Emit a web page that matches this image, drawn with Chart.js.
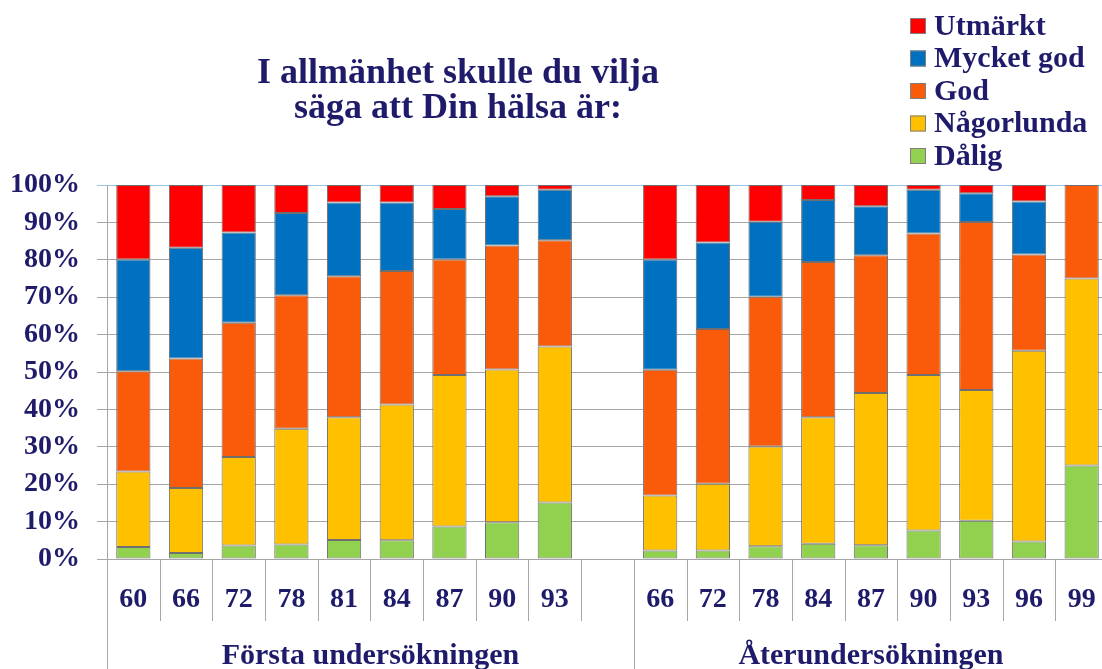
<!DOCTYPE html>
<html>
<head>
<meta charset="utf-8">
<script src="https://cdn.jsdelivr.net/npm/chart.js@4.4.1/dist/chart.umd.min.js"></script>
<style>
  html, body { margin: 0; padding: 0; background: #fff; overflow: hidden; }
  #wrap { width: 1108px; height: 669px; }
</style>
</head>
<body>
<div id="wrap"><canvas id="healthChart" width="1108" height="669"></canvas></div>
<script>
// Data (percent of each bar)
const categories = ['60', '66', '72', '78', '81', '84', '87', '90', '93', '',
                    '66', '72', '78', '84', '87', '90', '93', '96', '99'];
const groupLabels = ['Första undersökningen', 'Återundersökningen'];
const groupStarts = [0, 10];

const dalig      = [3.2, 1.6, 3.6, 3.9, 5.1, 5.0, 8.7, 9.8, 15.1, null, 2.3, 2.3, 3.4, 4.1, 3.7, 7.6, 10.2, 4.7, 25.0];
const nagorlunda = [20.2, 17.4, 23.7, 30.9, 32.8, 36.3, 40.5, 40.9, 41.7, null, 14.7, 17.8, 26.7, 33.8, 40.7, 41.6, 35.0, 51.0, 50.0];
const god        = [26.8, 34.6, 35.9, 35.7, 37.7, 35.7, 30.9, 33.1, 28.4, null, 33.6, 41.4, 40.0, 41.5, 36.8, 37.8, 44.9, 25.7, 25.0];
const mycketGod  = [29.9, 29.6, 24.1, 22.0, 19.7, 18.3, 13.5, 13.2, 13.5, null, 29.5, 23.1, 20.1, 16.6, 13.1, 11.7, 7.7, 14.2, 0];
const utmarkt    = [19.9, 16.8, 12.7, 7.5, 4.7, 4.7, 6.4, 3.0, 1.3, null, 19.9, 15.4, 9.8, 4.0, 5.7, 1.3, 2.2, 4.4, 0];

const yTicks = [0, 10, 20, 30, 40, 50, 60, 70, 80, 90, 100];

const textColor = '#1f1b6b';
const serif = '"Liberation Serif", "DejaVu Serif", serif';

// Title, legend and group dividers drawn by hand
const decorations = {
    id: 'decorations',
    afterDraw(chart) {
        const ctx = chart.ctx;
        const x = chart.scales.x;
        const area = chart.chartArea;
        const half = (x.getPixelForValue(1) - x.getPixelForValue(0)) / 2;

        ctx.save();
        // category dividers under the axis
        ctx.strokeStyle = '#a6a6a6';
        ctx.lineWidth = 1;
        for (let i = 0; i <= categories.length; i++) {
            const px = Math.round(x.getPixelForValue(0) - half + i * 2 * half) + 0.5;
            const long = groupStarts.includes(i);
            ctx.beginPath();
            ctx.moveTo(px, area.bottom);
            ctx.lineTo(px, long ? 669 : 621);
            ctx.stroke();
        }

        // group labels
        ctx.fillStyle = textColor;
        ctx.font = 'bold 30px ' + serif;
        ctx.textAlign = 'center';
        ctx.textBaseline = 'alphabetic';
        groupStarts.forEach((start, g) => {
            const end = g + 1 < groupStarts.length ? groupStarts[g + 1] : categories.length;
            const left = x.getPixelForValue(start) - half;
            const right = x.getPixelForValue(end - 1) + half;
            ctx.fillText(groupLabels[g], (left + right) / 2, 664);
        });

        // title
        ctx.font = 'bold 36px ' + serif;
        ctx.fillText('I allmänhet skulle du vilja', 458, 83);
        ctx.fillText('säga att Din hälsa är:', 458, 118);

        // legend, top item is the last dataset
        ctx.textAlign = 'left';
        ctx.font = 'bold 30px ' + serif;
        const sets = chart.data.datasets.slice().reverse();
        sets.forEach((ds, i) => {
            const cy = 26 + i * 32.5;
            ctx.fillStyle = ds.backgroundColor;
            ctx.fillRect(910, cy - 8, 16, 16);
            ctx.strokeStyle = '#7f7f7f';
            ctx.strokeRect(910.5, cy - 7.5, 15, 15);
            ctx.fillStyle = textColor;
            ctx.textBaseline = 'middle';
            ctx.fillText(ds.label, 934, cy + 1);
        });
        ctx.restore();
    }
};

const barStyle = {
    borderColor: '#6f6f6f',
    borderWidth: 1,
    borderSkipped: false,
    categoryPercentage: 1,
    barPercentage: 0.65
};

new Chart(document.getElementById('healthChart'), {
    type: 'bar',
    data: {
        labels: categories,
        datasets: [
            { label: 'Dålig', data: dalig, backgroundColor: '#92d050', ...barStyle },
            { label: 'Någorlunda', data: nagorlunda, backgroundColor: '#ffc000', ...barStyle },
            { label: 'God', data: god, backgroundColor: '#fa5b0b', ...barStyle },
            { label: 'Mycket god', data: mycketGod, backgroundColor: '#0070c0', ...barStyle },
            { label: 'Utmärkt', data: utmarkt, backgroundColor: '#ff0000', ...barStyle }
        ]
    },
    plugins: [decorations],
    options: {
        responsive: false,
        animation: false,
        layout: {
            padding: { top: 185, right: 0, bottom: 0, left: 0 }
        },
        plugins: {
            legend: { display: false },
            tooltip: { enabled: false }
        },
        scales: {
            x: {
                stacked: true,
                grid: { display: false, drawTicks: false },
                border: { display: false },
                ticks: {
                    color: textColor,
                    padding: 24,
                    maxRotation: 0,
                    autoSkip: false,
                    font: { family: serif, size: 28, weight: 'bold' }
                },
                afterFit(scale) {
                    scale.height = 110;
                    scale.paddingLeft = 0;
                    scale.paddingRight = 0;
                }
            },
            y: {
                stacked: true,
                min: 0,
                max: 100,
                afterBuildTicks(scale) {
                    scale.ticks = yTicks.map(v => ({ value: v }));
                },
                grid: {
                    color: ctx => ctx.tick && ctx.tick.value === 100 ? '#9dc3e6' : '#a6a6a6',
                    tickLength: 10
                },
                border: { display: true, color: '#a6a6a6' },
                ticks: {
                    color: textColor,
                    padding: 17,
                    callback: v => v + '%',
                    font: { family: serif, size: 28, weight: 'bold' }
                },
                afterFit(scale) { scale.width = 107; }
            }
        }
    }
});
</script>
</body>
</html>
